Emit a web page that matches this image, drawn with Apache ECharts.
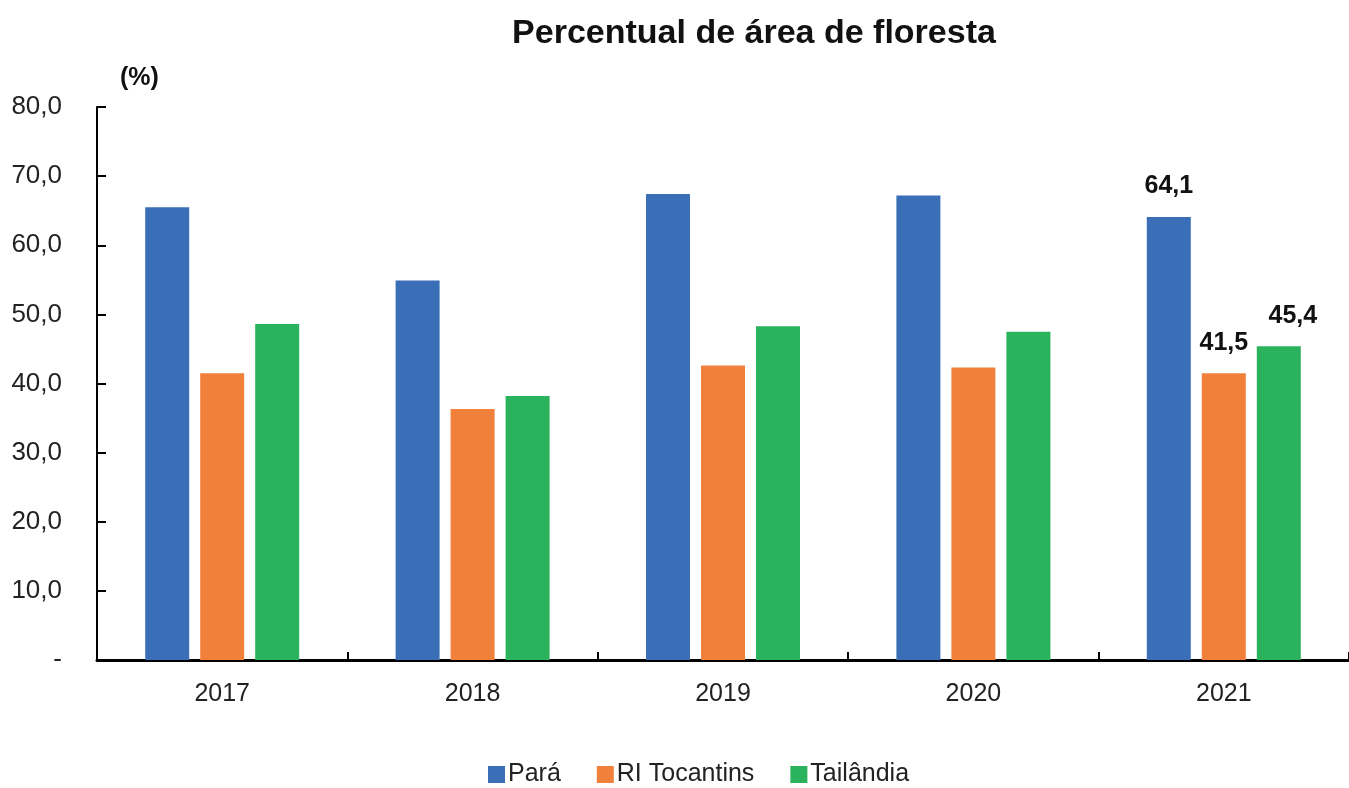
<!DOCTYPE html>
<html>
<head>
<meta charset="utf-8">
<script src="https://cdn.jsdelivr.net/npm/echarts@6/dist/echarts.min.js"></script>
<style>
html,body{margin:0;padding:0;background:#fff;}
#chart{width:1349px;height:788px;}
</style>
</head>
<body>
<div id="chart"></div>
<script>
var categories = ['2017', '2018', '2019', '2020', '2021'];
var seriesNames = ['Pará', 'RI Tocantins', 'Tailândia'];
var para = [65.5, 54.9, 67.4, 67.2, 64.1];
var riTocantins = [41.5, 36.3, 42.6, 42.3, 41.5];
var tailandia = [48.6, 38.2, 48.3, 47.5, 45.4];
var yTicks = [0, 10, 20, 30, 40, 50, 60, 70, 80];
var labeledIndex = 4;

var FONT = 'Liberation Sans';
var colors = ['#3A6FB7', '#F0803A', '#2AB25C'];
var fmt = function (v) { return v.toFixed(1).replace('.', ','); };

function buildData(arr, offsetX) {
  return arr.map(function (v, i) {
    if (i === labeledIndex) {
      return {
        value: v,
        label: {
          show: true, position: 'top', distance: 18, offset: [offsetX, 0],
          fontFamily: FONT, fontWeight: 'bold', fontSize: 25, color: '#111',
          formatter: function (p) { return fmt(p.value); }
        }
      };
    }
    return v;
  });
}

var chart = echarts.init(document.getElementById('chart'), null, {renderer: 'canvas'});
var allSeries = [para, riTocantins, tailandia];
var offsets = [0, 0, 14];

chart.setOption({
  animation: false,
  backgroundColor: '#fff',
  textStyle: {fontFamily: FONT},
  title: {
    text: 'Percentual de área de floresta',
    left: 749, textAlign: 'center', top: 12,
    textStyle: {fontFamily: FONT, fontWeight: 'bold', fontSize: 34, color: '#111'}
  },
  graphic: [{
    type: 'text', left: 120, top: 66,
    style: {text: '(%)', fontFamily: FONT, fontWeight: 'bold', fontSize: 25, fill: '#111'}
  }],
  legend: {
    data: seriesNames,
    top: 757, left: 483,
    itemWidth: 17, itemHeight: 17, itemGap: 36,
    icon: 'rect',
    textStyle: {fontFamily: FONT, fontSize: 25, color: '#222', padding: [0, 0, 0, -2]}
  },
  grid: {left: 97, top: 107, width: 1255, height: 553, containLabel: false},
  xAxis: {
    type: 'category',
    data: categories,
    axisLine: {lineStyle: {color: '#000', width: 3}},
    axisTick: {show: true, inside: true, length: 8, lineStyle: {color: '#000', width: 2}},
    axisLabel: {fontFamily: FONT, fontSize: 25, color: '#222', margin: 22}
  },
  yAxis: {
    type: 'value', min: 0, max: 80, interval: 10,
    axisLine: {show: true, lineStyle: {color: '#000', width: 2}},
    axisTick: {show: true, inside: true, length: 9, lineStyle: {color: '#000', width: 2}},
    splitLine: {show: false},
    axisLabel: {
      fontFamily: FONT, fontSize: 26, color: '#222', margin: 35,
      formatter: function (v) { return yTicks.indexOf(v) === 0 ? '-' : fmt(v); }
    }
  },
  series: allSeries.map(function (arr, k) {
    return {
      name: seriesNames[k], type: 'bar',
      data: buildData(arr, offsets[k]),
      barWidth: 44, barGap: '25%',
      itemStyle: {color: colors[k]}
    };
  })
});
</script>
</body>
</html>
